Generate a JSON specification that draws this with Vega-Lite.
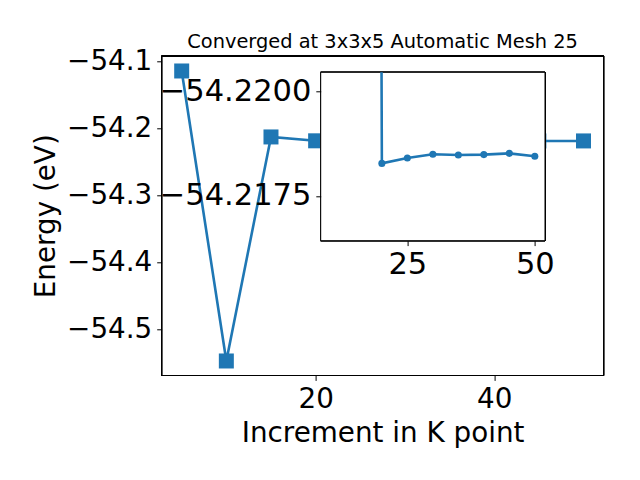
{
  "$schema": "https://vega.github.io/schema/vega-lite/v6.json",
  "autosize": {"type": "none"},
  "padding": {"left": 161.6, "top": 72.3, "right": 36.4, "bottom": 104.5},
  "width": 442,
  "height": 303.2,
  "background": "white",
  "title": {"text": "Converged at 3x3x5 Automatic Mesh 25", "font": "DejaVu Sans", "fontSize": 19.4, "fontWeight": "normal", "color": "black", "anchor": "middle", "frame": "group", "baseline": "alphabetic", "offset": -19.5},
  "datasets": {
    "main": [
      {"k": 5, "energy": -54.1139},
      {"k": 10, "energy": -54.5474},
      {"k": 15, "energy": -54.2125},
      {"k": 20, "energy": -54.21828},
      {"k": 25, "energy": -54.21841},
      {"k": 30, "energy": -54.2185},
      {"k": 35, "energy": -54.21848},
      {"k": 40, "energy": -54.21849},
      {"k": 45, "energy": -54.21852},
      {"k": 50, "energy": -54.21845}
    ],
    "inset": [
      {"k": 10, "energy": -54.5474},
      {"k": 20, "energy": -54.21828},
      {"k": 25, "energy": -54.21841},
      {"k": 30, "energy": -54.2185},
      {"k": 35, "energy": -54.21848},
      {"k": 40, "energy": -54.21849},
      {"k": 45, "energy": -54.21852},
      {"k": 50, "energy": -54.21845}
    ]
  },
  "layer": [
    {
      "data": {"name": "main"},
      "layer": [
        {
          "mark": {"type": "rect", "fillOpacity": 0, "fill": "white", "stroke": "black", "strokeWidth": 1},
          "encoding": {
            "x": {"datum": 2.75, "type": "quantitative", "scale": {"domain": [2.75, 52.25], "range": [0, 442], "nice": false, "zero": false}, "axis": {"orient": "bottom", "title": "Increment in K point", "values": [20, 40], "format": "d"}},
            "x2": {"datum": 52.25},
            "y": {"datum": -54.5691, "type": "quantitative", "scale": {"domain": [-54.5691, -54.0915], "range": [303.2, -16.3], "nice": false, "zero": false}, "axis": {"orient": "left", "title": "Energy (eV)", "values": [-54.1, -54.2, -54.3, -54.4, -54.5], "format": ".1f"}},
            "y2": {"datum": -54.0915}
          }
        },
        {
          "mark": {"type": "line", "color": "#1f77b4", "strokeWidth": 2.6},
          "encoding": {
            "x": {"field": "k", "type": "quantitative", "scale": {"domain": [2.75, 52.25], "range": [0, 442], "nice": false, "zero": false}, "axis": {"orient": "bottom", "title": "Increment in K point", "values": [20, 40], "format": "d"}},
            "y": {"field": "energy", "type": "quantitative", "scale": {"domain": [-54.5691, -54.0915], "range": [303.2, -16.3], "nice": false, "zero": false}, "axis": {"orient": "left", "title": "Energy (eV)", "values": [-54.1, -54.2, -54.3, -54.4, -54.5], "format": ".1f"}}
          }
        },
        {
          "mark": {"type": "point", "shape": "square", "filled": true, "color": "#1f77b4", "opacity": 1, "size": 225},
          "encoding": {
            "x": {"field": "k", "type": "quantitative", "scale": {"domain": [2.75, 52.25], "range": [0, 442], "nice": false, "zero": false}, "axis": {"orient": "bottom", "title": "Increment in K point", "values": [20, 40], "format": "d"}},
            "y": {"field": "energy", "type": "quantitative", "scale": {"domain": [-54.5691, -54.0915], "range": [303.2, -16.3], "nice": false, "zero": false}, "axis": {"orient": "left", "title": "Energy (eV)", "values": [-54.1, -54.2, -54.3, -54.4, -54.5], "format": ".1f"}}
          }
        }
      ]
    },
    {
      "data": {"name": "inset"},
      "layer": [
        {
          "mark": {"type": "rect", "fill": "white", "stroke": "black", "strokeWidth": 1},
          "encoding": {
            "x": {"datum": 8, "type": "quantitative", "scale": {"domain": [8, 52], "range": [159.1, 383.4], "nice": false, "zero": false}, "axis": {"orient": "bottom", "offset": -134.8, "title": null, "values": [25, 50], "format": "d", "zindex": 1, "labelFontSize": 30.5, "labelPadding": 4.3}},
            "x2": {"datum": 52},
            "y": {"datum": -54.220465, "type": "quantitative", "scale": {"domain": [-54.220465, -54.216425], "range": [0, 168.4], "nice": false, "zero": false}, "axis": {"orient": "left", "offset": -159.1, "title": null, "values": [-54.22, -54.2175], "format": ".4f", "zindex": 1, "labelFontSize": 30.5}},
            "y2": {"datum": -54.216425}
          }
        },
        {
          "mark": {"type": "line", "color": "#1f77b4", "strokeWidth": 2.6, "clip": true},
          "encoding": {
            "x": {"field": "k", "type": "quantitative", "scale": {"domain": [8, 52], "range": [159.1, 383.4], "nice": false, "zero": false}, "axis": {"orient": "bottom", "offset": -134.8, "title": null, "values": [25, 50], "format": "d", "zindex": 1, "labelFontSize": 30.5, "labelPadding": 4.3}},
            "y": {"field": "energy", "type": "quantitative", "scale": {"domain": [-54.220465, -54.216425], "range": [0, 168.4], "nice": false, "zero": false}, "axis": {"orient": "left", "offset": -159.1, "title": null, "values": [-54.22, -54.2175], "format": ".4f", "zindex": 1, "labelFontSize": 30.5}}
          }
        },
        {
          "mark": {"type": "point", "shape": "circle", "filled": true, "color": "#1f77b4", "opacity": 1, "size": 50, "clip": true},
          "encoding": {
            "x": {"field": "k", "type": "quantitative", "scale": {"domain": [8, 52], "range": [159.1, 383.4], "nice": false, "zero": false}, "axis": {"orient": "bottom", "offset": -134.8, "title": null, "values": [25, 50], "format": "d", "zindex": 1, "labelFontSize": 30.5, "labelPadding": 4.3}},
            "y": {"field": "energy", "type": "quantitative", "scale": {"domain": [-54.220465, -54.216425], "range": [0, 168.4], "nice": false, "zero": false}, "axis": {"orient": "left", "offset": -159.1, "title": null, "values": [-54.22, -54.2175], "format": ".4f", "zindex": 1, "labelFontSize": 30.5}}
          }
        }
      ]
    }
  ],
  "resolve": {"scale": {"x": "independent", "y": "independent"}, "axis": {"x": "independent", "y": "independent"}},
  "config": {
    "view": {"stroke": null},
    "font": "DejaVu Sans",
    "axis": {
      "grid": false,
      "domain": false,
      "ticks": true,
      "tickSize": 4.9,
      "tickColor": "black",
      "tickWidth": 1,
      "labelFont": "DejaVu Sans",
      "labelFontSize": 27.8,
      "labelColor": "black",
      "labelPadding": 4.9,
      "labelFlush": false,
      "labelOverlap": false,
      "labelBound": false,
      "titleFont": "DejaVu Sans",
      "titleFontSize": 27.8,
      "titleFontWeight": "normal",
      "titleColor": "black"
    },
    "axisX": {"titlePadding": 6},
    "axisY": {"titlePadding": 6}
  }
}
